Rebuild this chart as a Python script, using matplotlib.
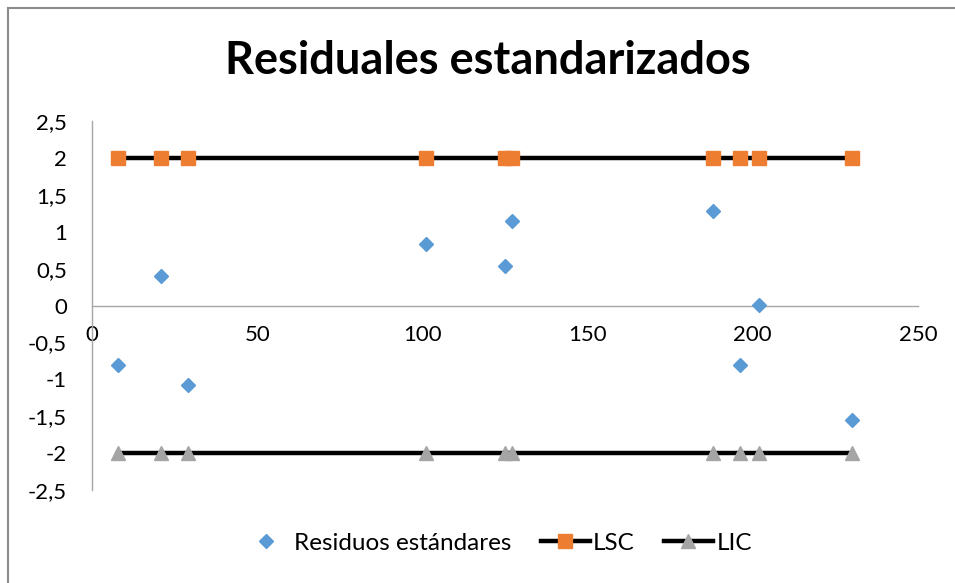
import numpy as np
import matplotlib
matplotlib.use("Agg")
import matplotlib.pyplot as plt
from matplotlib.ticker import FuncFormatter, MultipleLocator
from matplotlib.lines import Line2D

plt.rcParams['font.family'] = ['Lato', 'DejaVu Sans']

# Datos
x_obs = [8, 21, 29, 101, 125, 127, 188, 196, 202, 230]
residuos = [-0.81, 0.40, -1.08, 0.84, 0.54, 1.14, 1.28, -0.80, 0.01, -1.55]
lsc = [2, 2, 2, 2, 2, 2, 2, 2, 2, 2]
lic = [-2, -2, -2, -2, -2, -2, -2, -2, -2, -2]

azul = '#5B9BD5'
naranja = '#ED7D31'
gris = '#A5A5A5'

fig = plt.figure(figsize=(9.55, 5.83), dpi=100)
ax = fig.add_axes([92/955, 1 - 490/583, (918 - 92)/955, (490 - 121)/583])

# Líneas de control
ax.plot(x_obs, lsc, color='black', lw=3.2, marker='s', ms=10.5,
        mfc=naranja, mec=naranja, zorder=3)
ax.plot(x_obs, lic, color='black', lw=3.2, marker='^', ms=10.5,
        mfc=gris, mec=gris, zorder=3)
# Residuos
ax.plot(x_obs, residuos, ls='none', marker='D', ms=7.3,
        mfc=azul, mec=azul, zorder=4)

ax.set_xlim(0, 250)
ax.set_ylim(-2.5, 2.5)
ax.xaxis.set_major_locator(MultipleLocator(50))
ax.yaxis.set_major_locator(MultipleLocator(0.5))
ax.yaxis.set_major_formatter(FuncFormatter(lambda v, p: f'{v:g}'.replace('.', ',')))

for s in ['top', 'right']:
    ax.spines[s].set_visible(False)
ax.spines['bottom'].set_position(('data', 0))
ax.spines['bottom'].set_color('#A6A6A6')
ax.spines['left'].set_color('#A6A6A6')
ax.spines['bottom'].set_linewidth(1)
ax.spines['left'].set_linewidth(1)
ax.tick_params(axis='x', length=0, pad=14, labelsize=16, colors='black')
ax.tick_params(axis='y', length=0, pad=18, labelsize=16, colors='black')

fig.text(488/955, 1 - 61/583, 'Residuales estandarizados', ha='center', va='center',
         fontsize=32.5, fontweight='bold', color='black')

handles = [
    Line2D([], [], ls='none', marker='D', ms=7.3, mfc=azul, mec=azul),
    Line2D([], [], color='black', lw=3.2, marker='s', ms=10.5, mfc=naranja, mec=naranja),
    Line2D([], [], color='black', lw=3.2, marker='^', ms=10.5, mfc=gris, mec=gris),
]
fig.legend(handles, ['Residuos estándares', 'LSC', 'LIC'], loc='center',
           bbox_to_anchor=(497/955, 1 - 543/583), ncol=3, frameon=False,
           fontsize=17.5, handlelength=2.0, handletextpad=0.15, columnspacing=1.2)

# Marco del gráfico
fig.add_artist(plt.Line2D([8/955, 8/955], [0, 1 - 8/583], color='#8C8C8C', lw=1.5,
                          transform=fig.transFigure))
fig.add_artist(plt.Line2D([8/955, 1], [1 - 8/583, 1 - 8/583], color='#8C8C8C', lw=1.5,
                          transform=fig.transFigure))

fig.savefig('out.png', dpi=100)
